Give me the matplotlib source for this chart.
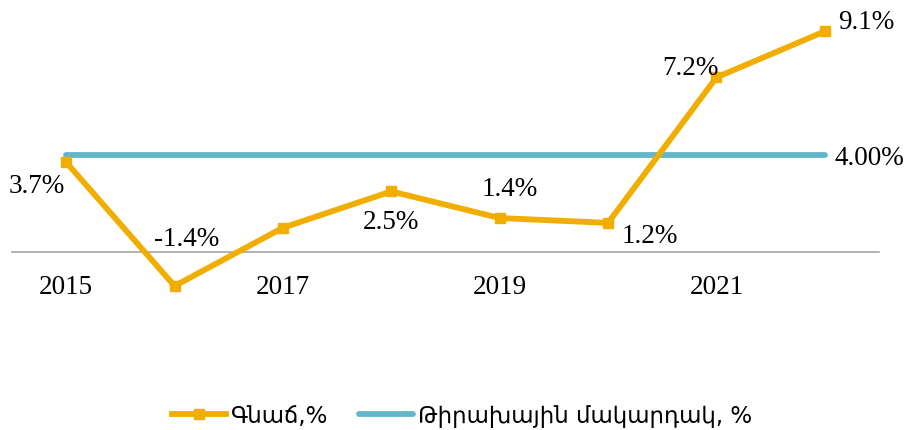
import matplotlib
matplotlib.use("Agg")
import matplotlib.pyplot as plt

years = [2015, 2016, 2017, 2018, 2019, 2020, 2021, 2022]
inflation = [3.7, -1.4, 1.0, 2.5, 1.4, 1.2, 7.2, 9.1]
inflation_labels = ["3.7%", "-1.4%", "", "2.5%", "1.4%", "1.2%", "7.2%", "9.1%"]
target = [4.0] * 8
target_label = "4.00%"
tick_years = [2015, 2017, 2019, 2021]
series_names = ["Գնաճ,%", "Թիրախային մակարդակ, %"]

ORANGE = "#F2AE00"
BLUE = "#63B5CC"
serif = ["Liberation Serif", "DejaVu Serif"]

fig = plt.figure(figsize=(9.17, 4.31), dpi=100)
ax = fig.add_axes([12/917, 129.5/431, 867/917, 291/431])

ax.plot(years, target, color=BLUE, lw=4.2, solid_capstyle="round", zorder=2,
        label=series_names[1])
ax.plot(years, inflation, color=ORANGE, lw=4.2, marker="s", ms=6.5,
        solid_joinstyle="miter", zorder=3, label=series_names[0])

ax.set_xlim(2014.5, 2022.5)
ax.set_ylim(-2, 10)

for s in ["top", "right", "left"]:
    ax.spines[s].set_visible(False)
ax.spines["bottom"].set_position(("data", 0))
ax.spines["bottom"].set_color("#a6a6a6")
ax.spines["bottom"].set_linewidth(1.2)
ax.set_yticks([])
ax.set_xticks(tick_years)
ax.set_xticklabels([str(y) for y in tick_years], fontfamily=serif, fontsize=19.5)
ax.tick_params(axis="x", length=0, pad=16)

offsets = [(-21, -17), (9, 34), (0, 0), (0, -22), (7, 21), (30, -9), (-19, 7), (30, 7)]
for x, y, lab, off in zip(years, inflation, inflation_labels, offsets):
    if lab:
        ax.annotate(lab, (x, y), xytext=off, textcoords="offset points",
                    ha="center", va="center", fontsize=19.5, fontfamily=serif)
ax.annotate(target_label, (years[-1], target[-1]), xytext=(32, -1.5),
            textcoords="offset points", ha="center", va="center",
            fontsize=19.5, fontfamily=serif)

handles, labels = ax.get_legend_handles_labels()
leg = fig.legend(handles[::-1], labels[::-1], loc="center", bbox_to_anchor=(462/917, 14/431),
                 ncol=2, frameon=False, prop={"family": ["DejaVu Sans"], "size": 16.5},
                 handlelength=2.36, columnspacing=1.3, handletextpad=0.22)

fig.savefig("out.png", dpi=100)
